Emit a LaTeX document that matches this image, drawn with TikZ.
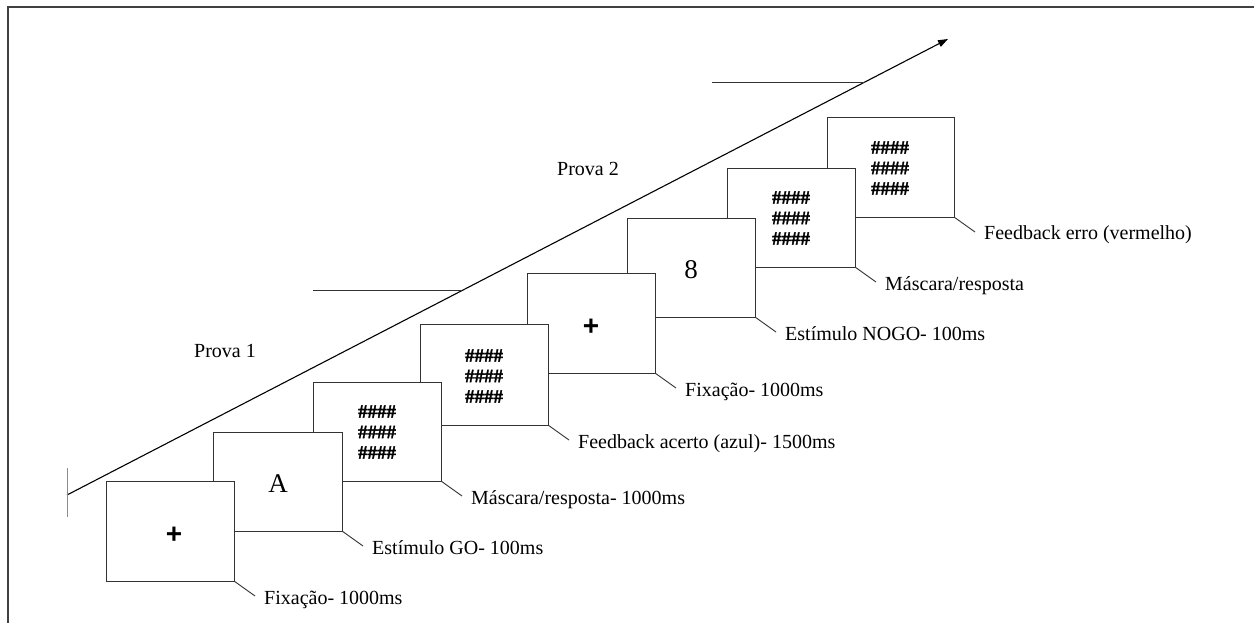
\documentclass[tikz,border=0pt]{standalone}
\usepackage{fontspec}
\setmainfont{Liberation Serif}
\newfontfamily\plusfont{Liberation Sans}
\newfontfamily\hashfont[FakeBold=1.6]{Liberation Serif}
\usetikzlibrary{arrows.meta}
\begin{document}
\begin{tikzpicture}[x=1pt,y=-1pt,
  scr/.style={draw=black!80, line width=0.9pt, fill=white, minimum width=128pt, minimum height=99pt, anchor=north west, inner sep=0pt, outer sep=0pt},
  lead/.style={draw=black!80, line width=0.9pt},
  lbl/.style={font=\fontsize{20}{24}\selectfont, anchor=base west, inner sep=0pt},
  hashes/.style={font=\hashfont\bfseries\fontsize{19}{20.5}\selectfont, align=center, inner sep=0pt},
  big/.style={font=\fontsize{27}{30}\selectfont, inner sep=0pt},
  plus/.style={font=\plusfont\fontsize{28}{30}\selectfont\bfseries, inner sep=0pt},
  axis/.style={line width=1.1pt, draw=black},
  frame/.style={line width=1.6pt, draw=black!75}
]
\useasboundingbox (0,0) rectangle (1254,623);
% frame
\draw[frame] (8,623) -- (8,7) -- (1254,7);

% time arrow
\coordinate (t0) at (67,495);
\coordinate (t1) at (948,39);
\draw[axis, -{Triangle[length=10pt,width=7pt]}] (t0) -- (t1);
\coordinate (tk0) at (67,468);
\coordinate (tk1) at (67,517);
\draw[line width=1pt, draw=black!45] (tk0) -- (tk1);

% trial separators
\coordinate (s1a) at (313,290);
\coordinate (s1b) at (462,290);
\draw[lead] (s1a) -- (s1b);
\coordinate (s2a) at (712,82);
\coordinate (s2b) at (865,82);
\draw[lead] (s2a) -- (s2b);

\node[lbl] (p1) at (194,357) {Prova 1};
\node[lbl] (p2) at (557,176) {Prova 2};

% screens, back to front
\node[scr, minimum width=127pt, minimum height=100pt] (b8) at (827,117) {};
\node[scr] (b7) at (727,168) {};
\node[scr] (b6) at (627,218) {};
\node[scr, minimum height=100pt] (b5) at (527,273) {};
\node[scr, minimum height=101pt] (b4) at (420,324) {};
\node[scr] (b3) at (313,382) {};
\node[scr, minimum width=129pt] (b2) at (213,432) {};
\node[scr, minimum height=100pt] (b1) at (106,481) {};

% contents
\node[plus] (c1) at (174,535) {+};
\node[big] (c2) at (278,484) {A};
\node[hashes] (c3) at (377,432) {\#\#\#\#\\\#\#\#\#\\\#\#\#\#};
\node[hashes] (c4) at (484,376) {\#\#\#\#\\\#\#\#\#\\\#\#\#\#};
\node[plus] (c5) at (591,327) {+};
\node[big] (c6) at (691,270) {8};
\node[hashes] (c7) at (791,218) {\#\#\#\#\\\#\#\#\#\\\#\#\#\#};
\node[hashes] (c8) at (890,168) {\#\#\#\#\\\#\#\#\#\\\#\#\#\#};

% leaders and labels
\foreach \b/\t in {b1/{Fixação- 1000ms}, b2/{Estímulo GO- 100ms}, b3/{Máscara/resposta- 1000ms}, b4/{Feedback acerto (azul)- 1500ms}, b5/{Fixação- 1000ms}, b6/{Estímulo NOGO- 100ms}, b7/{Máscara/resposta}, b8/{Feedback erro (vermelho)}}{
  \coordinate (\b e) at ([shift={(21,15)}]\b.south east);
  \draw[lead] (\b.south east) -- (\b e);
  \node[lbl] (\b l) at ([shift={(9,8)}]\b e) {\t};
}
\end{tikzpicture}
\end{document}
